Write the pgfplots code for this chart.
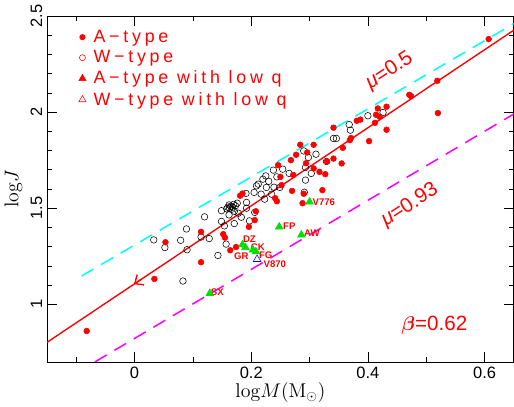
\documentclass[border=0pt]{standalone}
\usepackage{fontspec}
\usepackage{pgfplots}
\pgfplotsset{compat=1.18}
\usetikzlibrary{arrows.meta}
\newfontfamily\hv{Liberation Sans}
\newfontfamily\hvw[LetterSpace=21]{Liberation Sans}
\definecolor{mgreen}{rgb}{0,0.88,0}
\definecolor{mcyan}{rgb}{0,1,1}
\definecolor{mmag}{rgb}{1,0,1}
\definecolor{mred}{rgb}{1,0,0}

\pgfplotstableread{
x y
-0.082 0.861
0.034 1.132
0.053 1.323
0.114 1.377
0.114 1.219
0.152 1.365
0.155 1.347
0.164 1.281
0.174 1.298
0.196 1.403
0.208 1.484
0.181 1.565
0.185 1.576
0.206 1.438
0.241 1.552
0.244 1.536
0.246 1.724
0.250 1.663
0.252 1.620
0.268 1.750
0.272 1.673
0.270 1.590
0.277 1.778
0.284 1.830
0.288 1.526
0.290 1.575
0.296 1.790
0.294 1.734
0.307 1.830
0.307 1.707
0.317 1.689
0.327 1.677
0.322 1.594
0.330 1.743
0.341 1.758
0.355 1.733
0.341 1.919
0.357 1.814
0.369 1.854
0.371 1.865
0.381 1.955
0.387 1.961
0.402 1.849
0.412 1.944
0.414 1.986
0.420 1.976
0.417 2.019
0.432 2.028
0.432 1.908
0.471 2.090
0.474 2.083
0.519 2.163
0.520 1.995
0.607 2.380
}\atype

\pgfplotstableread{
x y
0.033 1.335
0.052 1.295
0.079 1.333
0.089 1.392
0.090 1.284
0.083 1.121
0.114 1.350
0.128 1.342
0.120 1.455
0.157 1.313
0.143 1.254
0.149 1.431
0.149 1.487
0.154 1.408
0.162 1.517
0.162 1.465
0.171 1.420
0.167 1.495
0.163 1.500
0.168 1.505
0.171 1.484
0.173 1.513
0.178 1.474
0.176 1.526
0.183 1.453
0.160 1.505
0.165 1.510
0.170 1.520
0.158 1.497
0.192 1.530
0.192 1.500
0.191 1.577
0.197 1.434
0.206 1.478
0.205 1.582
0.209 1.616
0.217 1.573
0.212 1.625
0.220 1.651
0.226 1.608
0.225 1.668
0.235 1.573
0.238 1.698
0.230 1.640
0.223 1.547
0.239 1.609
0.244 1.663
0.249 1.608
0.254 1.703
0.265 1.681
0.290 1.798
0.298 1.764
0.293 1.712
0.293 1.646
0.303 1.681
0.311 1.781
0.291 1.583
0.329 1.743
0.341 1.863
0.346 1.863
0.368 1.935
0.370 1.906
0.400 1.981
0.426 1.998
}\wtype

\pgfplotstableread{
x y
0.129 1.057
0.185 1.310
0.190 1.296
0.203 1.283
0.208 1.274
0.248 1.403
0.286 1.361
0.300 1.533
}\alowq

\begin{document}
\begin{tikzpicture}
\begin{axis}[
  scale only axis, width=340pt, height=252pt,
  xmin=-0.15, xmax=0.65, ymin=0.7, ymax=2.5,
  xtick={0,0.2,0.4,0.6}, minor xtick={-0.1,0.1,0.3,0.5},
  ytick={1,1.5,2,2.5}, minor y tick num=4,
  tick align=inside, major tick length=7pt, minor tick length=3.5pt,
  tick style={black, thin},
  yticklabel style={rotate=90},
  tick label style={font=\hv\fontsize{12}{13}\selectfont},
  /pgf/number format/assume math mode=true,
  xlabel={$\mathrm{log}M(\mathrm{M}_{\odot})$},
  ylabel={$\mathrm{log}J$},
  label style={font=\fontsize{14.5}{15}\selectfont},
  xlabel style={yshift=4pt},
  ylabel style={yshift=-1pt},
  legend style={at={(0,1)}, anchor=north west, xshift=20pt, yshift=-6pt,
    draw=none, fill=none,
    font=\hvw\fontsize{13}{14}\selectfont, row sep=0.5pt},
  legend cell align=left,
]
\addlegendimage{only marks, mark=*, mred, mark size=2pt}
\addlegendentry{\hspace{3.5pt}\textcolor{mred}{A−type}}
\addlegendimage{only marks, mark=o, mred, mark size=2.2pt}
\addlegendentry{\hspace{3.5pt}\textcolor{mred}{W−type}}
\addlegendimage{only marks, mark=triangle*, mred, mark size=3pt}
\addlegendentry{\hspace{3.5pt}\textcolor{mred}{A−type with low q}}
\addlegendimage{only marks, mark=triangle, mred, mark size=3pt}
\addlegendentry{\hspace{3.5pt}\textcolor{mred}{W−type with low q}}

\addplot[mcyan, line width=1.1pt, dash pattern=on 10pt off 6.5pt, forget plot]
  coordinates {(-0.091,1.147) (0.65,2.46)};
\addplot[mmag, line width=1.1pt, dash pattern=on 10pt off 6.5pt, forget plot]
  coordinates {(-0.068,0.70) (0.65,1.99)};
\addplot[mred, line width=1pt, forget plot]
  coordinates {(-0.15,0.802) (0.65,2.426)};
\addplot[mred, line width=1pt, -{Straight Barb[length=5pt,width=9pt]}, forget plot]
  coordinates {(0.012,1.131) (-0.001,1.105)};

\addplot[only marks, mark=o, mark size=2.4pt, black, thin, forget plot] table {\wtype};
\addplot[only marks, mark=*, mark size=2.1pt, mred, forget plot] table {\atype};
\addplot[only marks, mark=triangle*, mark size=3.2pt, mgreen, forget plot] table {\alowq};
\addplot[only marks, mark=triangle, mark size=3.2pt, blue, thin, forget plot]
  coordinates {(0.210,1.234)};

\begin{scope}[every node/.style={mred, font=\hv\bfseries\fontsize{7}{8}\selectfont, inner sep=0pt}]
\node at (axis cs:0.197,1.339) {DZ};
\node at (axis cs:0.183,1.252) {GR};
\node at (axis cs:0.2115,1.298) {CK};
\node at (axis cs:0.225,1.257) {FG};
\node at (axis cs:0.2405,1.208) {V870};
\node at (axis cs:0.2654,1.405) {FP};
\node at (axis cs:0.304,1.37) {AW};
\node at (axis cs:0.3245,1.533) {V776};
\node at (axis cs:0.142,1.061) {SX};
\end{scope}

\node[mred, rotate=33, font=\hv\fontsize{15}{16}\selectfont] at (axis cs:0.437,2.215) {{\itshape μ}=0.5};
\node[mred, rotate=33, font=\hv\fontsize{15}{16}\selectfont] at (axis cs:0.472,1.515) {{\itshape μ}=0.93};
\node[mred, font=\hv\fontsize{15}{16}\selectfont] at (axis cs:0.514,0.89) {{\boldmath$\beta$}=0.62};
\end{axis}
\path ([yshift=10pt]current axis.north west);
\end{tikzpicture}
\end{document}
